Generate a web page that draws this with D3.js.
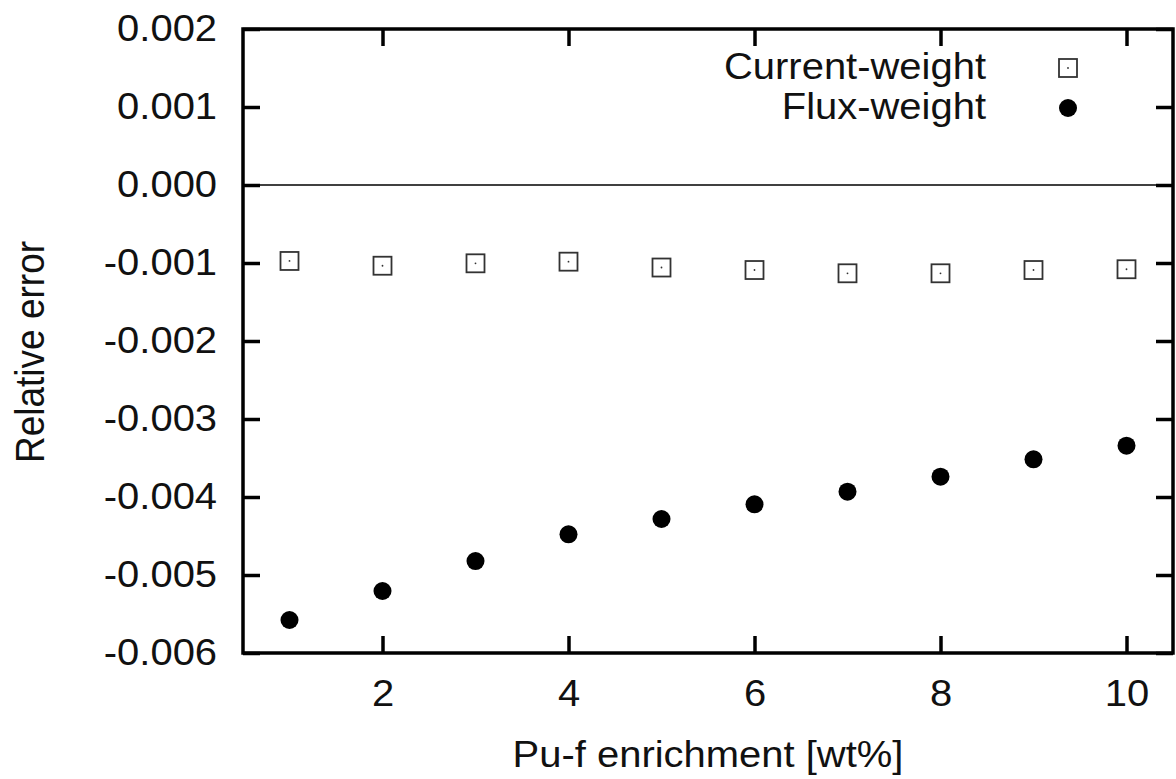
<!DOCTYPE html>
<html>
<head>
<meta charset="utf-8">
<script src="https://cdn.jsdelivr.net/npm/d3@7"></script>
<style>
  body { margin: 0; background: #fff; }
  text { font-family: "Liberation Sans", Arial, sans-serif; font-size: 37px; fill: #111; }
</style>
</head>
<body>
<svg id="chart"></svg>
<script>
 var width = 1176;
 var height = 779;

 // values
 const enrichment = [1, 2, 3, 4, 5, 6, 7, 8, 9, 10];
 const currentWeight = [-0.000974, -0.001035, -0.001004, -0.000983, -0.001058,
                        -0.00109, -0.001132, -0.001132, -0.00109, -0.00108];
 const fluxWeight = [-0.005577, -0.005205, -0.004821, -0.004479, -0.004282,
                     -0.004094, -0.003932, -0.00374, -0.003517, -0.003342];
 const xTicks = [2, 4, 6, 8, 10];
 const yTicks = [-0.006, -0.005, -0.004, -0.003, -0.002, -0.001, 0, 0.001, 0.002];
 const seriesNames = ["Current-weight", "Flux-weight"];

 const plotLeft = 243, plotRight = 1173, plotTop = 29, plotBottom = 653;
 const stretch = 1.08; // glyphs in the picture are a little wide

 const svg = d3.select("#chart")
   .attr("width", width)
   .attr("height", height);

 const x = d3.scaleLinear().domain([0.5, 10.5]).range([plotLeft, plotRight]);
 const y = d3.scaleLinear().domain([-0.006, 0.002]).range([plotBottom, plotTop]);

 // zero line
 svg.append("line")
   .attr("x1", plotLeft).attr("x2", plotRight)
   .attr("y1", y(0)).attr("y2", y(0))
   .attr("stroke", "#000")
   .attr("stroke-width", 1.5);

 // axes, ticks pointing inwards on all four sides
 const fmt = d => d.toFixed(3);
 const axes = [
   { ax: d3.axisBottom(x).tickValues(xTicks).tickPadding(27), t: `translate(0,${plotBottom})` },
   { ax: d3.axisTop(x).tickValues(xTicks).tickFormat(""), t: `translate(0,${plotTop})` },
   { ax: d3.axisLeft(y).tickValues(yTicks).tickFormat(fmt).tickPadding(24), t: `translate(${plotLeft},0)` },
   { ax: d3.axisRight(y).tickValues(yTicks).tickFormat(""), t: `translate(${plotRight},0)` }
 ];
 axes.forEach(a => {
   const g = svg.append("g")
     .attr("transform", a.t)
     .call(a.ax.tickSize(-17).tickSizeOuter(0));
   g.select(".domain").remove();
   g.selectAll(".tick line").attr("stroke", "#000").attr("stroke-width", 3.5);
   g.selectAll(".tick text")
     .attr("fill", "#111")
     .attr("transform", `scale(${stretch},1)`);
   g.attr("font-family", null).attr("font-size", null);
 });

 // frame
 svg.append("rect")
   .attr("x", plotLeft).attr("y", plotTop)
   .attr("width", plotRight - plotLeft).attr("height", plotBottom - plotTop)
   .attr("fill", "none")
   .attr("stroke", "#000")
   .attr("stroke-width", 3.5);

 // Current-weight: open squares with a dot
 const sq = svg.append("g").selectAll("g")
   .data(enrichment)
   .enter()
   .append("g")
   .attr("transform", (d, i) => `translate(${x(d)},${y(currentWeight[i])})`);
 sq.append("rect")
   .attr("x", -9).attr("y", -9)
   .attr("width", 18).attr("height", 18)
   .attr("fill", "none")
   .attr("stroke", "#333")
   .attr("stroke-width", 1.8);
 sq.append("circle").attr("r", 0.9).attr("fill", "#333");

 // Flux-weight: filled circles
 svg.append("g").selectAll("circle")
   .data(enrichment)
   .enter()
   .append("circle")
   .attr("cx", d => x(d))
   .attr("cy", (d, i) => y(fluxWeight[i]))
   .attr("r", 9)
   .attr("fill", "#000");

 // axis titles
 svg.append("text")
   .attr("transform", `translate(${(plotLeft + plotRight) / 2},767) scale(${stretch},1)`)
   .attr("text-anchor", "middle")
   .text("Pu-f enrichment [wt%]");

 svg.append("text")
   .attr("transform", `translate(44,352) rotate(-90) scale(1,${stretch})`)
   .attr("text-anchor", "middle")
   .text("Relative error");

 // legend
 const legend = svg.append("g");
 seriesNames.forEach((name, i) => {
   const ly = 79 + i * 40;
   legend.append("text")
     .attr("transform", `translate(986,${ly}) scale(${stretch},1)`)
     .attr("text-anchor", "end")
     .text(name);
   if (i === 0) {
     legend.append("rect")
       .attr("x", 1068 - 9).attr("y", ly - 11 - 9)
       .attr("width", 18).attr("height", 18)
       .attr("fill", "none")
       .attr("stroke", "#333")
       .attr("stroke-width", 1.8);
     legend.append("circle").attr("cx", 1068).attr("cy", ly - 11).attr("r", 0.9).attr("fill", "#333");
   } else {
     legend.append("circle")
       .attr("cx", 1068).attr("cy", ly - 11)
       .attr("r", 9)
       .attr("fill", "#000");
   }
 });
</script>
</body>
</html>
